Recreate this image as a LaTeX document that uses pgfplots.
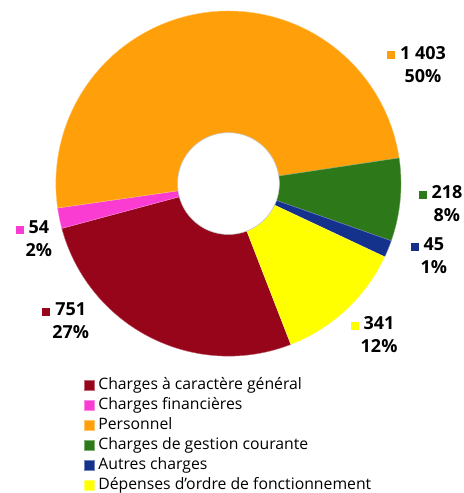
\documentclass[border=0pt]{standalone}
\usepackage{pgfplots}
\pgfplotsset{compat=1.18}
\usepackage{fontspec}
\setmainfont{Open Sans}

\definecolor{cRed}{RGB}{150,5,25}
\definecolor{cPink}{RGB}{250,60,210}
\definecolor{cOrange}{RGB}{255,160,10}
\definecolor{cGreen}{RGB}{45,120,25}
\definecolor{cBlue}{RGB}{20,50,140}
\definecolor{cYellow}{RGB}{255,255,0}

% values
\def\vA{751}\def\vB{54}\def\vC{1403}\def\vD{218}\def\vE{45}\def\vF{341}
\pgfmathsetmacro\tot{\vA+\vB+\vC+\vD+\vE+\vF}
% slices run clockwise, first one starts at -68.8 deg
\pgfmathsetmacro\aA{-68.8}
\pgfmathsetmacro\aB{\aA-\vA/\tot*360}
\pgfmathsetmacro\aC{\aB-\vB/\tot*360}
\pgfmathsetmacro\aD{\aC-\vC/\tot*360}
\pgfmathsetmacro\aE{\aD-\vD/\tot*360}
\pgfmathsetmacro\aF{\aE-\vE/\tot*360}
\pgfmathsetmacro\aG{\aF-\vF/\tot*360}

\newcommand\sq[1]{{\color{#1}\rule{8pt}{8pt}}}

\begin{document}
\begin{tikzpicture}
\begin{axis}[
  scale only axis, width=465pt, height=493pt,
  xmin=0, xmax=465, ymin=0, ymax=493, y dir=reverse,
  hide axis, clip=false,
  legend image code/.code={\fill[#1] (0pt,-5pt) rectangle (10pt,5pt);},
  legend cell align=left,
  legend style={at={(axis cs:84,378)}, anchor=north west, draw=none, fill=none,
    font=\fontsize{15.8}{18}\selectfont, row sep=4pt, inner sep=0pt,
    nodes={inner sep=0pt, text height=12pt, text depth=4pt},
    /tikz/every odd column/.style={column sep=4pt}},
]
\addplot[draw=none, forget plot] coordinates {(0,0) (465,493)};
\addplot[fill=cRed, draw=white!40!cRed, line width=0.4pt, domain=\aB:\aA, samples=80, variable=\t]
  ({229+173*cos(\t)},{184-173*sin(\t)}) -- (axis cs:229,184) -- cycle;
\addlegendentry{Charges à caractère général}
\addplot[fill=cPink, draw=white!40!cPink, line width=0.4pt, domain=\aC:\aB, samples=10, variable=\t]
  ({229+173*cos(\t)},{184-173*sin(\t)}) -- (axis cs:229,184) -- cycle;
\addlegendentry{Charges financières}
\addplot[fill=cOrange, draw=white!40!cOrange, line width=0.4pt, domain=\aD:\aC, samples=120, variable=\t]
  ({229+173*cos(\t)},{184-173*sin(\t)}) -- (axis cs:229,184) -- cycle;
\addlegendentry{Personnel}
\addplot[fill=cGreen, draw=white!40!cGreen, line width=0.4pt, domain=\aE:\aD, samples=20, variable=\t]
  ({229+173*cos(\t)},{184-173*sin(\t)}) -- (axis cs:229,184) -- cycle;
\addlegendentry{Charges de gestion courante}
\addplot[fill=cBlue, draw=white!40!cBlue, line width=0.4pt, domain=\aF:\aE, samples=6, variable=\t]
  ({229+173*cos(\t)},{184-173*sin(\t)}) -- (axis cs:229,184) -- cycle;
\addlegendentry{Autres charges}
\addplot[fill=cYellow, draw=white!40!cYellow, line width=0.4pt, domain=\aG:\aF, samples=30, variable=\t]
  ({229+173*cos(\t)},{184-173*sin(\t)}) -- (axis cs:229,184) -- cycle;
\addlegendentry{Dépenses d{\char"27}ordre de fonctionnement}
% hole
\addplot[fill=white, draw=gray!45, line width=0.6pt, domain=0:360, samples=100, variable=\t, forget plot]
  ({229+51*cos(\t)},{184-51*sin(\t)});

% value labels
\begin{scope}[every node/.style={align=center, font=\bfseries\fontsize{18}{23}\selectfont, inner sep=0pt}]
\node at (axis cs:424,64.5) {\llap{\sq{cOrange}\hspace{5pt}}1 403\\50\%};
\node at (axis cs:448,204.5) {\llap{\sq{cGreen}\hspace{5pt}}218\\8\%};
\node at (axis cs:435,256.5) {\llap{\sq{cBlue}\hspace{5pt}}45\\1\%};
\node at (axis cs:380,335.5) {\llap{\sq{cYellow}\hspace{5pt}}341\\12\%};
\node at (axis cs:71,321.5) {\llap{\sq{cRed}\hspace{5pt}}751\\27\%};
\node at (axis cs:39,239.5) {\llap{\sq{cPink}\hspace{5pt}}54\\2\%};
\end{scope}
\end{axis}
\end{tikzpicture}
\end{document}
